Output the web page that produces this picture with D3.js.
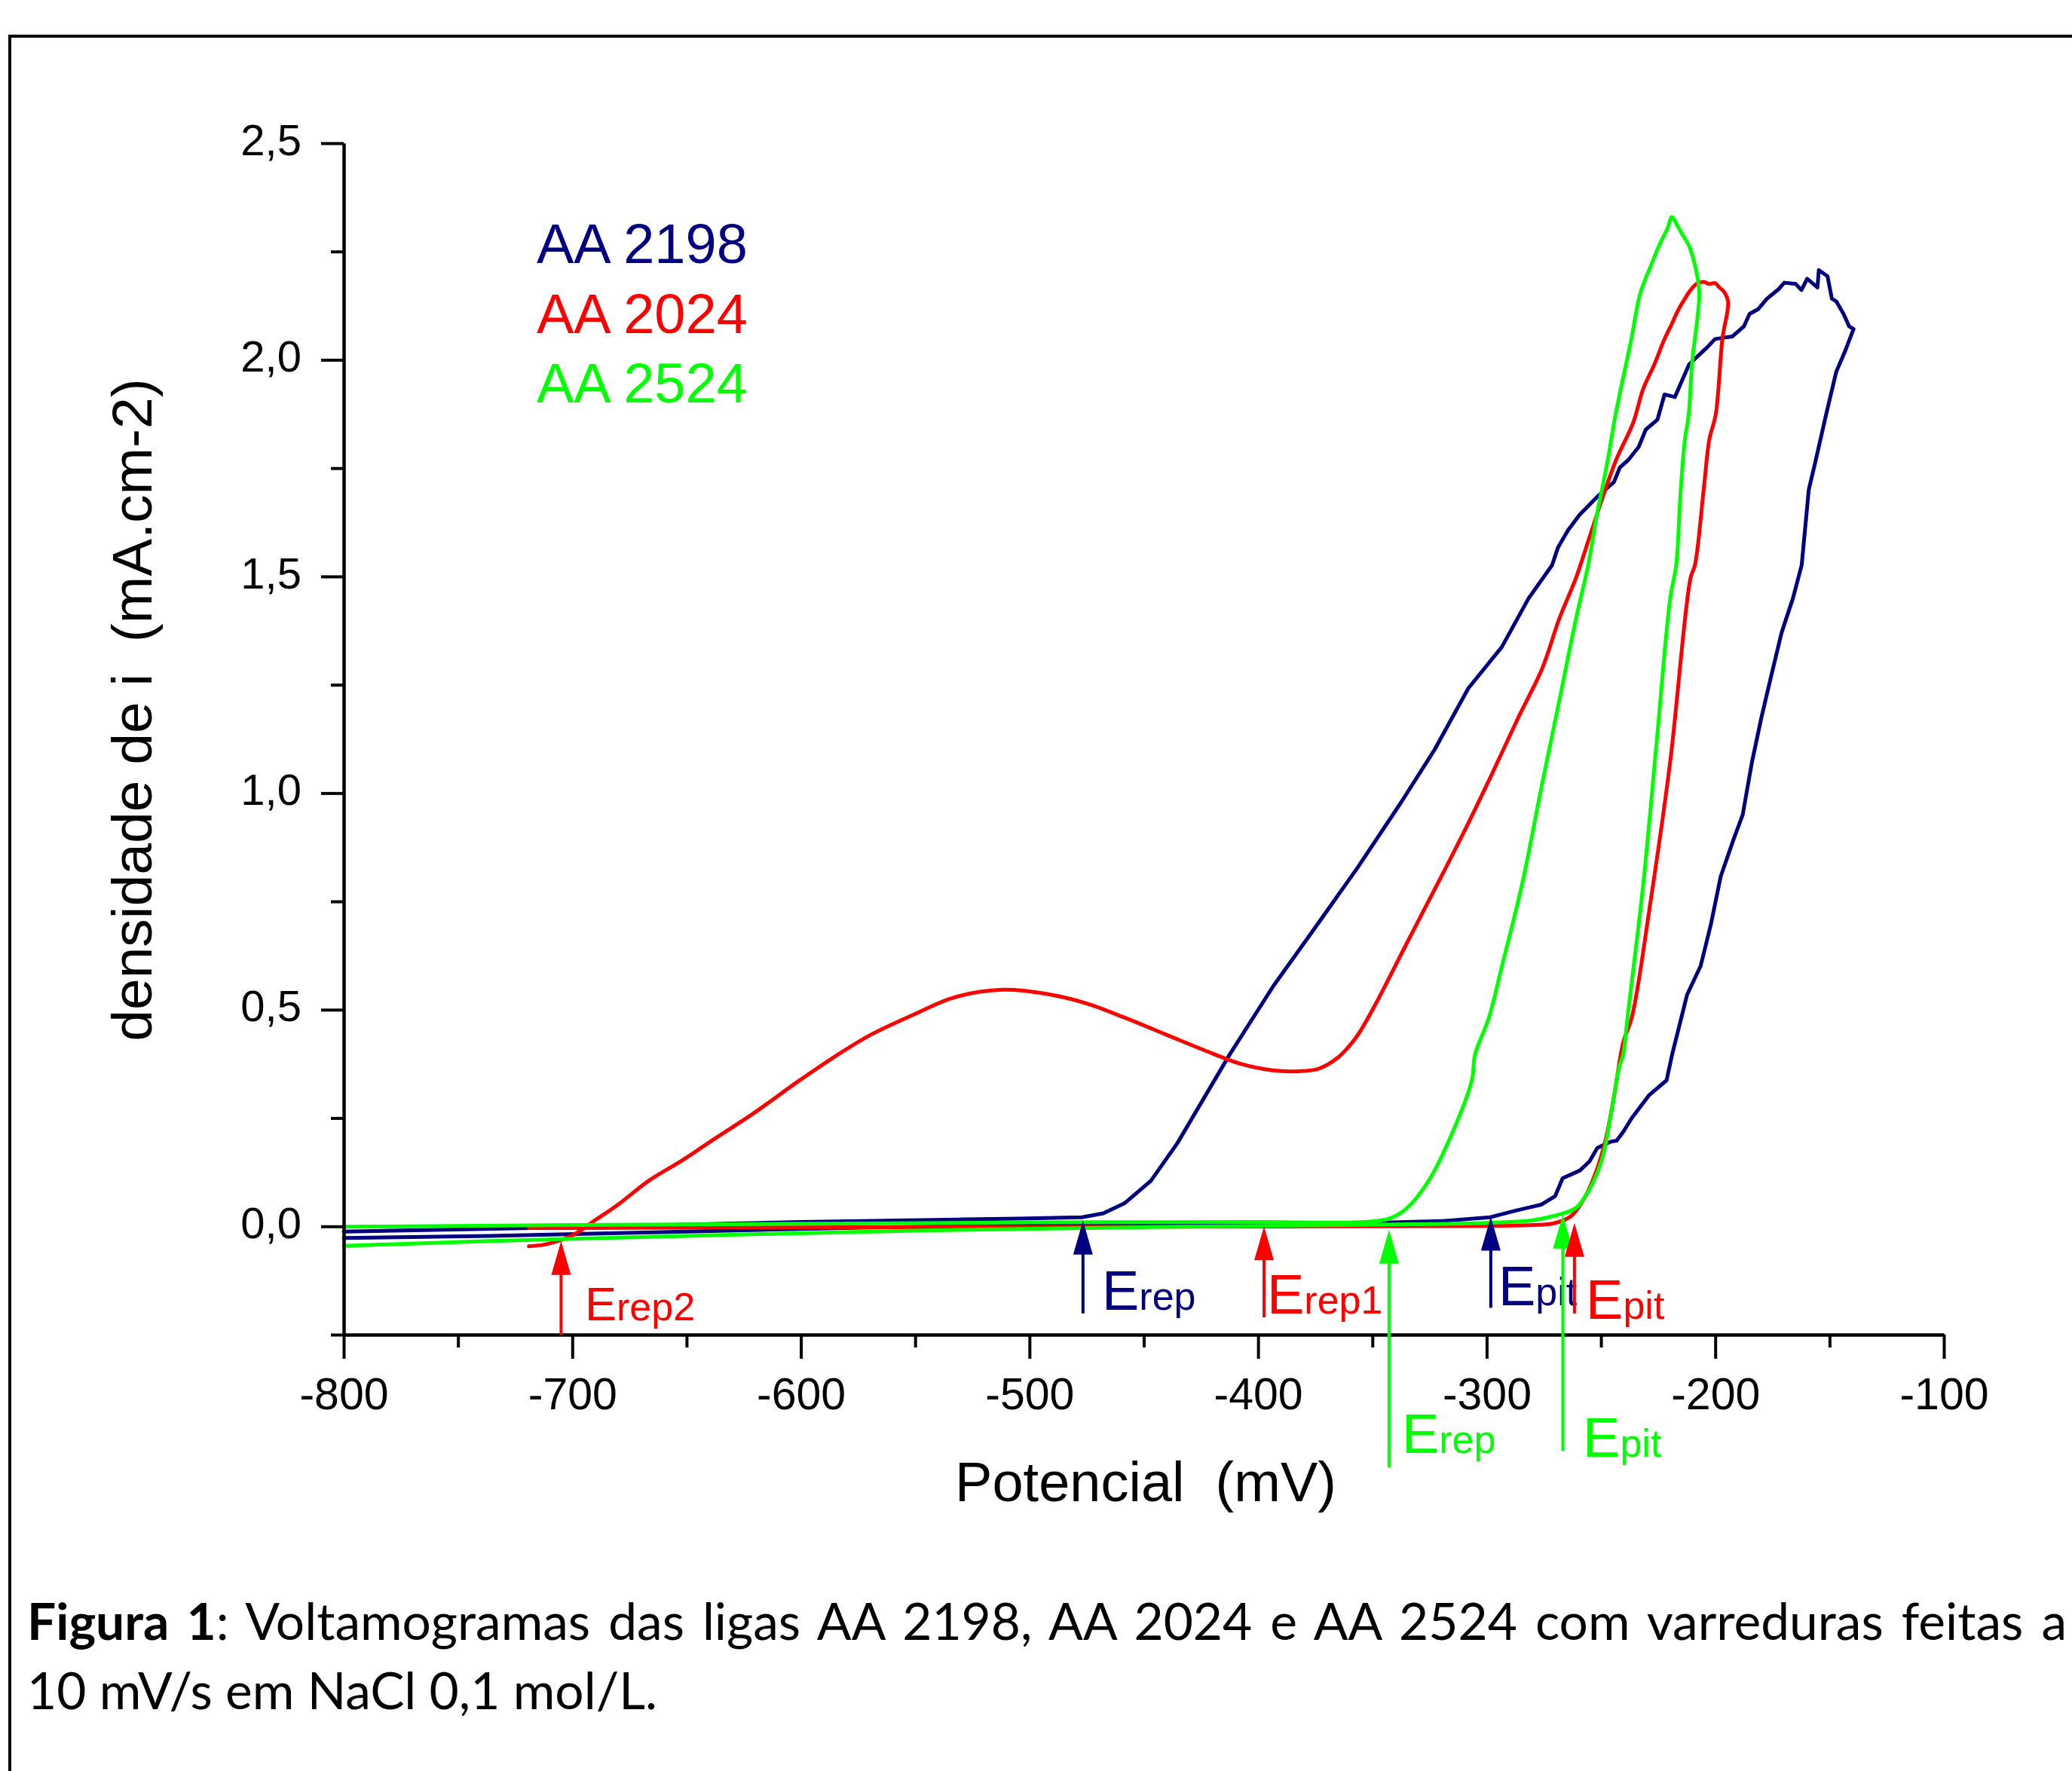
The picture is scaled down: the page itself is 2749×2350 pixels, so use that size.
<!DOCTYPE html>
<html>
<head>
<meta charset="utf-8">
<script src="https://cdn.jsdelivr.net/npm/d3@7"></script>
<style>
  html, body { margin: 0; padding: 0; background: #fff; }
  svg { display: block; }
  text { white-space: pre; }
</style>
</head>
<body>
<svg id="chart" width="2749" height="2350"></svg>
<script>
// ---------------- DATA ----------------
const seriesNames = ["AA 2198", "AA 2024", "AA 2524"];

// AA 2198 : [potential mV, current density mA.cm-2], full loop (forward then reverse)
const aa2198 = [
  [-800,-0.027],[-736,-0.022],[-650,-0.012],[-574,-0.003],[-500,0.003],[-400,0.006],[-350,0.008],
  [-320,0.012],[-298.4,0.021],[-287.6,0.036],[-276.2,0.050],[-270,0.07],[-266.8,0.111],[-259.2,0.129],
  [-255,0.15],[-251.6,0.181],[-246,0.195],[-243.1,0.198],[-240,0.22],[-236.5,0.25],[-228.9,0.303],
  [-221.3,0.337],[-218.9,0.396],[-212.3,0.535],[-206.4,0.601],[-202,0.695],[-197.6,0.808],[-192,0.893],
  [-188,0.95],[-184,1.07],[-180,1.17],[-176,1.26],[-171,1.37],[-166,1.45],[-162.2,1.526],[-159.1,1.70],
  [-156.5,1.758],[-151.5,1.874],[-147.1,1.972],[-143.3,2.019],[-139.5,2.071],
  [-141.4,2.077],[-143.9,2.106],[-147.1,2.135],[-149,2.141],[-150.9,2.193],[-154.7,2.207],[-155.3,2.167],
  [-159.8,2.187],[-162.3,2.161],[-164.8,2.175],[-169.8,2.178],[-172.3,2.163],[-177.4,2.141],[-181.2,2.117],
  [-185,2.106],[-187.5,2.077],[-192.5,2.054],[-200.1,2.048],[-203.9,2.027],[-211.4,1.99],[-217.7,1.914],
  [-222.2,1.92],[-225.3,1.862],[-230.4,1.839],[-233.5,1.799],[-238,1.769],[-241.7,1.752],[-244.3,1.718],
  [-251.8,1.683],[-259.4,1.642],[-264.4,1.607],[-268.8,1.567],[-271.4,1.526],[-281.6,1.450],[-293.4,1.337],
  [-308,1.242],[-322.7,1.101],[-337.5,0.978],[-356.6,0.827],[-374.3,0.695],[-393.4,0.554],[-412.5,0.396],
  [-435.3,0.192],[-446.9,0.105],[-458.5,0.053],[-467.7,0.030],[-477,0.021],[-504.7,0.018],[-527.9,0.016],
  [-600,0.01],[-700,-0.002],[-800,-0.012]
];

// AA 2024
const aa2024 = [
  [-719,-0.004],[-650,-0.003],[-550,-0.002],[-450,-0.001],[-350,0.0],[-300,0.001],[-280,0.003],
  [-270.6,0.007],[-263,0.024],[-257.3,0.065],[-251.6,0.134],[-247.8,0.204],[-244,0.309],[-240.3,0.424],
  [-236.5,0.482],[-228.5,0.743],[-219.7,1.073],[-210.8,1.497],[-208.9,1.526],[-205,1.704],[-202.6,1.816],
  [-199.8,1.874],[-196.9,2.048],[-194.4,2.135],
  [-196.3,2.158],[-198.2,2.167],[-200.1,2.177],[-202.6,2.175],[-205.1,2.18],[-208.3,2.175],[-210.8,2.161],
  [-213.3,2.141],[-216.5,2.112],[-219,2.083],[-222.2,2.048],[-226.6,1.99],[-231.6,1.932],[-235.9,1.855],
  [-243.3,1.770],[-249.1,1.685],[-255,1.591],[-260.9,1.497],[-268.2,1.403],[-275.6,1.289],[-286,1.176],
  [-297.7,1.044],[-308,0.931],[-319.8,0.808],[-334.5,0.658],[-349.2,0.507],[-357,0.437],[-365,0.39],
  [-373.4,0.364],[-382.2,0.358],[-393.7,0.36],[-407.6,0.375],[-423.8,0.407],[-440,0.442],[-458.5,0.482],
  [-474.7,0.514],[-493.2,0.537],[-511.7,0.546],[-532.5,0.529],[-551,0.488],[-569.5,0.442],[-585.7,0.39],
  [-601.9,0.332],[-620.4,0.262],[-638.9,0.198],[-652,0.152],[-666.6,0.105],[-680,0.05],[-692,0.007],
  [-698,-0.015],[-704,-0.03],[-712,-0.042],[-719,-0.046]
];

// AA 2524
const aa2524 = [
  [-800,-0.045],[-736,-0.034],[-650,-0.022],[-550,-0.010],[-450,-0.002],[-400,0.001],[-350,0.004],
  [-300,0.008],[-280,0.014],[-270.6,0.024],[-261.1,0.042],[-255.4,0.082],[-249.7,0.152],[-245.9,0.25],
  [-242.1,0.366],[-240.3,0.396],[-238.4,0.482],[-231.5,0.79],[-225.6,1.12],[-219.7,1.45],[-217.1,1.526],
  [-215.3,1.685],[-213.3,1.816],[-211.6,1.874],[-210.2,1.99],[-207,2.152],[-208.3,2.204],[-211.4,2.262],
  [-214.6,2.291],[-216.5,2.309],[-219,2.329],[-220.9,2.303],[-224.7,2.262],[-227.8,2.222],[-232.9,2.152],
  [-236.7,2.048],[-243.6,1.874],[-247.4,1.758],[-251.8,1.642],[-255.6,1.526],[-260.9,1.403],[-268.2,1.214],
  [-275.6,1.025],[-284.5,0.79],[-293.3,0.601],[-299,0.482],[-305.1,0.396],[-306.5,0.337],[-316,0.204],
  [-325.4,0.105],[-334.9,0.042],[-342.5,0.018],[-353.8,0.010],[-400,0.01],[-500,0.009],[-600,0.006],
  [-700,0.003],[-800,-0.001]
];

// Axis ticks
const xMajorTicks = [-800,-700,-600,-500,-400,-300,-200,-100];
const xTickLabels = ["-800","-700","-600","-500","-400","-300","-200","-100"];
const xMinorTicks = [-750,-650,-550,-450,-350,-250,-150];
const yMajorTicks = [0,0.5,1.0,1.5,2.0,2.5];
const yTickLabels = ["0,0","0,5","1,0","1,5","2,0","2,5"];
const yMinorTicks = [-0.25,0.25,0.75,1.25,1.75,2.25];

// Annotated potentials (mV) with arrow tip / tail currents and label anchor
const markSeries   = ["AA 2024","AA 2198","AA 2024","AA 2524","AA 2198","AA 2524","AA 2024"];
const markSub      = ["rep2","rep","rep1","rep","pit","pit","pit"];
const markPotential= [-704.9,-476.6,-397.4,-342.7,-298.2,-266.7,-261.6];
const markTip      = [-0.034,0.013,0.0,-0.008,0.022,0.027,0.008];
const markTail     = [-0.25,-0.201,-0.21,-0.556,-0.188,-0.518,-0.201];
const labelPotential=[-694.5,-468.3,-396.1,-337.1,-294.9,-257.9,-256.6];
const labelCurrent = [-0.217,-0.193,-0.202,-0.523,-0.183,-0.532,-0.214];

const xTitle = "Potencial  (mV)";
const yTitle = "densidade de i  (mA.cm-2)";
const captionBold = "Figura 1";
const captionLine1 = ": Voltamogramas das ligas AA 2198, AA 2024 e AA 2524 com varreduras feitas a";
const captionLine2 = "10 mV/s em NaCl 0,1 mol/L.";

// ---------------- DRAW ----------------
const colors = {"AA 2198":"#000080","AA 2024":"#ff0000","AA 2524":"#00ff00"};
const seriesData = {"AA 2198":aa2198,"AA 2024":aa2024,"AA 2524":aa2524};
const seriesCurve = {"AA 2198":d3.curveLinear,"AA 2024":d3.curveCatmullRom.alpha(0.5),"AA 2524":d3.curveCatmullRom.alpha(0.5)};

const svg = d3.select("#chart");
const FONT = "'Liberation Sans', Arial, Helvetica, sans-serif";

// frame
svg.append("rect").attr("x",13).attr("y",48).attr("width",2800).attr("height",2400)
  .attr("fill","none").attr("stroke","#000").attr("stroke-width",4);

const x = d3.scaleLinear().domain([-800,-100]).range([456,2579]);
const y = d3.scaleLinear().domain([-0.25,2.5]).range([1771,190]);

// curves
["AA 2198","AA 2024","AA 2524"].forEach(name=>{
  const line = d3.line().x(d=>x(d[0])).y(d=>y(d[1])).curve(seriesCurve[name]);
  svg.append("path").datum(seriesData[name])
    .attr("d",line).attr("fill","none").attr("stroke",colors[name])
    .attr("stroke-width",5).attr("stroke-linejoin","round").attr("stroke-linecap","round");
});

// axes
function styleAxis(g){
  g.selectAll("path.domain").attr("stroke","#000").attr("stroke-width",4);
  g.selectAll(".tick line").attr("stroke","#000").attr("stroke-width",4);
  g.selectAll("text").attr("font-family",FONT).attr("font-size",59).attr("fill","#000");
}
const xAxisG = svg.append("g").attr("transform",`translate(0,${y(-0.25)})`)
  .call(d3.axisBottom(x).tickValues(xMajorTicks).tickSize(32).tickSizeOuter(0).tickPadding(25)
    .tickFormat((d,i)=>xTickLabels[i]));
styleAxis(xAxisG);
const xMinorG = svg.append("g").attr("transform",`translate(0,${y(-0.25)})`)
  .call(d3.axisBottom(x).tickValues(xMinorTicks).tickSize(17).tickSizeOuter(0).tickFormat(""));
styleAxis(xMinorG);

const yAxisG = svg.append("g").attr("transform",`translate(${x(-800)},0)`)
  .call(d3.axisLeft(y).tickValues(yMajorTicks).tickSize(30).tickSizeOuter(0).tickPadding(26)
    .tickFormat((d,i)=>yTickLabels[i]));
styleAxis(yAxisG);
yAxisG.selectAll("text").attr("font-size",58).attr("dy","0.26em");
const yMinorG = svg.append("g").attr("transform",`translate(${x(-800)},0)`)
  .call(d3.axisLeft(y).tickValues(yMinorTicks).tickSize(17).tickSizeOuter(0).tickFormat(""));
styleAxis(yMinorG);

// axis titles
svg.append("text").attr("x",1520).attr("y",1992).attr("text-anchor","middle")
  .attr("xml:space","preserve")
  .attr("font-family",FONT).attr("font-size",74).attr("fill","#000").text(xTitle);
svg.append("text").attr("transform","translate(201,942) rotate(-90)").attr("text-anchor","middle")
  .attr("xml:space","preserve")
  .attr("font-family",FONT).attr("font-size",75).attr("fill","#000").text(yTitle);

// legend
seriesNames.forEach((n,i)=>{
  svg.append("text").attr("x",712).attr("y",349 + i*92.5)
    .attr("font-family",FONT).attr("font-size",74).attr("fill",colors[n]).text(n);
});

// arrows and labels
markPotential.forEach((p,i)=>{
  const c = colors[markSeries[i]];
  const px = x(p), tipY = y(markTip[i]), tailY = y(markTail[i]);
  const headLen = 45, headHalf = 13;
  svg.append("line").attr("x1",px).attr("x2",px).attr("y1",tailY).attr("y2",tipY+headLen-2)
    .attr("stroke",c).attr("stroke-width",4);
  svg.append("path")
    .attr("d",`M${px},${tipY} L${px-headHalf},${tipY+headLen} L${px+headHalf},${tipY+headLen} Z`)
    .attr("fill",c);
  const t = svg.append("text").attr("x",x(labelPotential[i])).attr("y",y(labelCurrent[i]))
    .attr("font-family",FONT).attr("fill",c);
  t.append("tspan").attr("font-size", i===0 ? 63 : 74).text("E");
  t.append("tspan").attr("font-size",52).text(markSub[i]);
});

// caption
const CAP_FONT = "Lato, 'Open Sans', 'Noto Sans', sans-serif";
const cap2 = svg.append("text").attr("x",36).attr("y",2268)
  .attr("font-family",CAP_FONT).attr("font-size",66).attr("fill","#000").text(captionLine2);
// fit line 2 width (~836px)
const w2 = cap2.node().getComputedTextLength();
const capSize = 66 * 836 / w2;
cap2.attr("font-size",capSize);

const cap1 = svg.append("text").attr("x",36).attr("y",2176)
  .attr("font-family",CAP_FONT).attr("font-size",capSize).attr("fill","#000");
cap1.append("tspan").attr("font-weight","bold").text(captionBold);
cap1.append("tspan").text(captionLine1);
// justify line 1 so it ends right at the page edge
const w1 = cap1.node().getComputedTextLength();
const nSpaces = (captionBold + captionLine1).split(" ").length - 1;
const extra = (2742 - 36 - w1) / nSpaces;
cap1.attr("word-spacing", extra);
</script>
</body>
</html>
